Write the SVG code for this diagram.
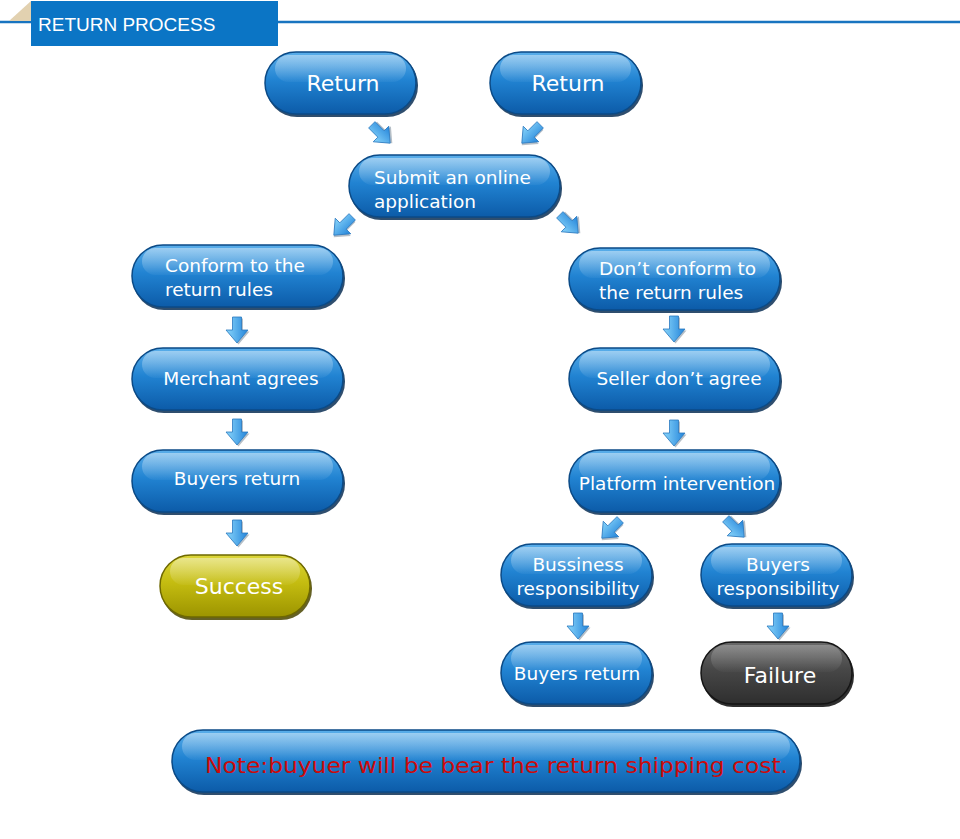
<svg xmlns="http://www.w3.org/2000/svg" width="960" height="839" viewBox="0 0 960 839">
<defs>
<linearGradient id="gBlue" x1="0" y1="0" x2="0" y2="1">
<stop offset="0" stop-color="#5aaeea"/>
<stop offset="0.45" stop-color="#2183d2"/>
<stop offset="1" stop-color="#0c5ba8"/>
</linearGradient>
<linearGradient id="gOlive" x1="0" y1="0" x2="0" y2="1">
<stop offset="0" stop-color="#dcd63a"/>
<stop offset="0.45" stop-color="#c4bc10"/>
<stop offset="1" stop-color="#9c9400"/>
</linearGradient>
<linearGradient id="gGrey" x1="0" y1="0" x2="0" y2="1">
<stop offset="0" stop-color="#6a6a6a"/>
<stop offset="0.45" stop-color="#474747"/>
<stop offset="1" stop-color="#2e2e2e"/>
</linearGradient>
<linearGradient id="gGloss" x1="0" y1="0" x2="0" y2="1">
<stop offset="0" stop-color="#ffffff" stop-opacity="0.42"/>
<stop offset="1" stop-color="#ffffff" stop-opacity="0.04"/>
</linearGradient>
<linearGradient id="gArrow" x1="0" y1="0" x2="1" y2="0">
<stop offset="0" stop-color="#8ad6fb"/>
<stop offset="1" stop-color="#2384da"/>
</linearGradient>
<path id="arw" d="M-4.5,-13 L4.5,-13 L4.5,0 L11,0 L0,13 L-11,0 L-4.5,0 Z"/>
<g id="arrow">
<use href="#arw" transform="translate(1.5,1.5)" fill="#7a8a99" opacity="0.55"/>
<use href="#arw" fill="url(#gArrow)" stroke="#2a78bf" stroke-width="0.8"/>
</g>
</defs>
<style>
.shadow{fill:#0a2f55;opacity:0.85}
.blue{fill:url(#gBlue);stroke:#0b4a86;stroke-width:1.5}
.olive{fill:url(#gOlive);stroke:#6e6800;stroke-width:1.5}
.grey{fill:url(#gGrey);stroke:#151515;stroke-width:1.5}
.oshadow{fill:#4a4500;opacity:0.85}
.gshadow{fill:#0a0a0a;opacity:0.85}
.gloss{fill:url(#gGloss)}
.t{font-family:"DejaVu Sans","Liberation Sans",sans-serif;fill:#ffffff;font-size:18.5px}
.tc{text-anchor:middle}
.big{font-size:22px}
.hdr{font-family:"Liberation Sans",Arial,sans-serif;fill:#ffffff;font-size:19px}
.note{font-family:"DejaVu Sans","Liberation Sans",sans-serif;fill:#cc0a0a;font-size:22px}
</style>
<rect width="960" height="839" fill="#ffffff"/>

<g id="header">
<line x1="0" y1="22" x2="960" y2="22" stroke="#1874c0" stroke-width="2.5"/>
<polygon points="9,21 31,1 31,21" fill="#e2d1b0"/>
<rect x="31" y="1" width="247" height="45" fill="#0b75c5"/>
<text class="hdr" x="38" y="31">RETURN PROCESS</text>
</g>

<g id="return1">
<rect class="shadow" x="266" y="54" width="152" height="63" rx="31"/>
<rect class="blue" x="265" y="52" width="151" height="62" rx="31"/>
<rect class="gloss" x="275" y="55" width="131" height="27" rx="13.5"/>
<text class="t tc big" x="343" y="91">Return</text>
</g>
<g id="return2">
<rect class="shadow" x="491" y="54" width="152" height="63" rx="31"/>
<rect class="blue" x="490" y="52" width="151" height="62" rx="31"/>
<rect class="gloss" x="500" y="55" width="131" height="27" rx="13.5"/>
<text class="t tc big" x="568" y="91">Return</text>
</g>
<g id="submit">
<rect class="shadow" x="350" y="157" width="212" height="63" rx="31"/>
<rect class="blue" x="349" y="155" width="211" height="62" rx="31"/>
<rect class="gloss" x="359" y="158" width="191" height="27" rx="13.5"/>
<text class="t" x="374" y="184">Submit an online</text>
<text class="t" x="374" y="208">application</text>
</g>
<g id="conform">
<rect class="shadow" x="133" y="247" width="212" height="63" rx="31"/>
<rect class="blue" x="132" y="245" width="211" height="62" rx="31"/>
<rect class="gloss" x="142" y="248" width="191" height="27" rx="13.5"/>
<text class="t" x="165" y="272">Conform to the</text>
<text class="t" x="165" y="296">return rules</text>
</g>
<g id="merchant">
<rect class="shadow" x="133" y="350" width="212" height="63" rx="31"/>
<rect class="blue" x="132" y="348" width="211" height="62" rx="31"/>
<rect class="gloss" x="142" y="351" width="191" height="27" rx="13.5"/>
<text class="t tc" x="241" y="385">Merchant agrees</text>
</g>
<g id="buyersReturnLeft">
<rect class="shadow" x="133" y="452" width="212" height="63" rx="31"/>
<rect class="blue" x="132" y="450" width="211" height="62" rx="31"/>
<rect class="gloss" x="142" y="453" width="191" height="27" rx="13.5"/>
<text class="t tc" x="237" y="485">Buyers return</text>
</g>
<g id="success">
<rect class="oshadow" x="161" y="557" width="151" height="63" rx="31"/>
<rect class="olive" x="160" y="555" width="150" height="62" rx="31"/>
<rect class="gloss" x="170" y="558" width="130" height="27" rx="13.5"/>
<text class="t tc big" x="239" y="594">Success</text>
</g>
<g id="dontConform">
<rect class="shadow" x="570" y="250" width="212" height="63" rx="31"/>
<rect class="blue" x="569" y="248" width="211" height="62" rx="31"/>
<rect class="gloss" x="579" y="251" width="191" height="27" rx="13.5"/>
<text class="t" x="599" y="275">Don’t conform to</text>
<text class="t" x="599" y="299">the return rules</text>
</g>
<g id="sellerDontAgree">
<rect class="shadow" x="570" y="350" width="212" height="63" rx="31"/>
<rect class="blue" x="569" y="348" width="211" height="62" rx="31"/>
<rect class="gloss" x="579" y="351" width="191" height="27" rx="13.5"/>
<text class="t tc" x="679" y="385">Seller don’t agree</text>
</g>
<g id="platform">
<rect class="shadow" x="570" y="452" width="212" height="63" rx="31"/>
<rect class="blue" x="569" y="450" width="211" height="62" rx="31"/>
<rect class="gloss" x="579" y="453" width="191" height="27" rx="13.5"/>
<text class="t tc" x="677" y="490">Platform intervention</text>
</g>
<g id="bussinessResp">
<rect class="shadow" x="502" y="546" width="152" height="63" rx="31"/>
<rect class="blue" x="501" y="544" width="151" height="62" rx="31"/>
<rect class="gloss" x="511" y="547" width="131" height="27" rx="13.5"/>
<text class="t tc" x="578" y="571">Bussiness</text>
<text class="t tc" x="578" y="595">responsibility</text>
</g>
<g id="buyersResp">
<rect class="shadow" x="702" y="546" width="152" height="63" rx="31"/>
<rect class="blue" x="701" y="544" width="151" height="62" rx="31"/>
<rect class="gloss" x="711" y="547" width="131" height="27" rx="13.5"/>
<text class="t tc" x="778" y="571">Buyers</text>
<text class="t tc" x="778" y="595">responsibility</text>
</g>
<g id="buyersReturnRight">
<rect class="shadow" x="502" y="644" width="152" height="63" rx="31"/>
<rect class="blue" x="501" y="642" width="151" height="62" rx="31"/>
<rect class="gloss" x="511" y="645" width="131" height="27" rx="13.5"/>
<text class="t tc" x="577" y="680">Buyers return</text>
</g>
<g id="failure">
<rect class="gshadow" x="702" y="644" width="152" height="63" rx="31"/>
<rect class="grey" x="701" y="642" width="151" height="62" rx="31"/>
<rect class="gloss" x="711" y="645" width="131" height="27" rx="13.5" opacity="0.6"/>
<text class="t tc big" x="780" y="683">Failure</text>
</g>
<g id="note">
<rect class="shadow" x="173" y="732" width="629" height="63" rx="31"/>
<rect class="blue" x="172" y="730" width="628" height="62" rx="31"/>
<rect class="gloss" x="182" y="733" width="608" height="27" rx="13.5"/>
<text class="note" x="205" y="773" textLength="583" lengthAdjust="spacingAndGlyphs">Note:buyuer will be bear the return shipping cost.</text>
</g>

<g id="connectors">
<use href="#arrow" transform="translate(381,134) rotate(-45)"/>
<use href="#arrow" transform="translate(531,134) rotate(45)"/>
<use href="#arrow" transform="translate(343,226) rotate(45)"/>
<use href="#arrow" transform="translate(569,224) rotate(-45)"/>
<use href="#arrow" transform="translate(237,330)"/>
<use href="#arrow" transform="translate(237,432)"/>
<use href="#arrow" transform="translate(237,533)"/>
<use href="#arrow" transform="translate(674,329)"/>
<use href="#arrow" transform="translate(674,433)"/>
<use href="#arrow" transform="translate(611,529) rotate(45)"/>
<use href="#arrow" transform="translate(735,528) rotate(-45)"/>
<use href="#arrow" transform="translate(578,626)"/>
<use href="#arrow" transform="translate(778,626)"/>
</g>
</svg>
